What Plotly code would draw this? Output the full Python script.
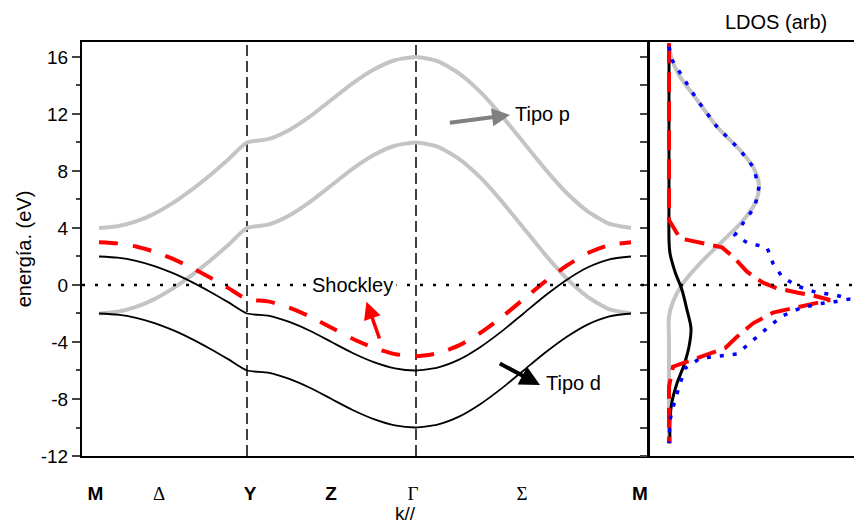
import plotly.graph_objects as go

# ---------------- band structure data (k path in arbitrary path units) ----------------
K_PATH = [0, 18.5, 37, 55.5, 74, 92.5, 111, 129.5, 148,
          169.1, 190.3, 211.4, 232.5, 253.6, 274.8, 295.9, 317,
          338.5, 360, 381.5, 403, 424.5, 446, 467.5, 489, 510.5, 532]

P_UPPER = [4, 4.12, 4.46, 5.01, 5.76, 6.67, 7.70, 8.83, 10,
           10.23, 10.88, 11.85, 13, 14.15, 15.12, 15.77, 16,
           15.71, 14.85, 13.53, 11.85, 10, 8.15, 6.47, 5.15, 4.29, 4]
P_LOWER = [-2, -1.88, -1.54, -0.99, -0.24, 0.67, 1.70, 2.83, 4,
           4.23, 4.88, 5.85, 7, 8.15, 9.12, 9.77, 10,
           9.71, 8.85, 7.53, 5.85, 4, 2.15, 0.47, -0.85, -1.71, -2]
D_UPPER = [2, 1.92, 1.70, 1.33, 0.83, 0.22, -0.47, -1.22, -2,
           -2.15, -2.59, -3.23, -4, -4.77, -5.41, -5.85, -6,
           -5.80, -5.24, -4.35, -3.24, -2, -0.76, 0.35, 1.24, 1.80, 2]
D_LOWER = [-2, -2.08, -2.30, -2.67, -3.17, -3.78, -4.47, -5.22, -6,
           -6.15, -6.59, -7.23, -8, -8.77, -9.41, -9.85, -10,
           -9.80, -9.24, -8.35, -7.24, -6, -4.76, -3.65, -2.76, -2.20, -2]
SHOCKLEY = [3, 2.92, 2.70, 2.33, 1.83, 1.22, 0.53, -0.22, -1,
            -1.15, -1.59, -2.23, -3, -3.77, -4.41, -4.85, -5,
            -4.80, -4.24, -3.35, -2.24, -1, 0.24, 1.35, 2.24, 2.80, 3]

# high-symmetry points with vertical guide lines
SYM_LINES = [148, 317]

# k-axis tick labels
TICK_POS = [-3.5, 60, 151, 232, 314, 423, 541]
TICK_LABELS = ["M", "Δ", "Y", "Z", "Γ", "Σ", "M"]
GREEK = {"Δ", "Γ", "Σ"}

# energy-axis ticks
E_TICKS = [-12, -8, -4, 0, 4, 8, 12, 16]
E_TICK_LABELS = ["-12", "-8", "-4", "0", "4", "8", "12", "16"]

# ---------------- LDOS data ----------------
LDOS_P_E = [16.96, 16.02, 14.62, 13.0, 11.1, 9.47, 8.3, 7.02, 5.73, 4.44, 3.04, 1.52, 0.12, -1.17, -2.22, -4.0, -11.1]
LDOS_P = [0, 0.02, 0.11, 0.28, 0.48, 0.71, 0.84, 0.90, 0.86, 0.73, 0.53, 0.31, 0.14, 0.04, 0, 0, 0]

LDOS_D_E = [16.96, 6.0, 3.16, 2.22, 0.93, -0.35, -1.75, -3.04, -4.33, -5.61, -6.9, -8.19, -9.47, -11.1]
LDOS_D = [0, 0, 0, 0.01, 0.06, 0.13, 0.18, 0.22, 0.20, 0.15, 0.08, 0.03, 0.01, 0.01]

LDOS_S_E = [16.96, 4.56, 3.27, 2.64, 1.99, 0.93, 0.16, -0.23, -0.54, -0.77, -1.05, -1.24,
            -1.94, -2.69, -3.63, -4.44, -5.08, -5.73, -7.14, -11.1]
LDOS_S = [0, 0, 0.11, 0.53, 0.64, 0.78, 0.94, 1.08, 1.29, 1.46, 1.61, 1.48,
          1.04, 0.84, 0.68, 0.56, 0.31, 0.04, 0, 0]

LDOS_T_E = [16.72, 15.79, 13.0, 11.1, 9.47, 8.3, 6.9, 5.5, 4.33, 3.51, 2.97, 2.64, 1.52, 0.58,
            -0.07, -0.54, -0.70, -0.98, -1.17, -1.33, -1.64, -2.18, -3.04, -3.98, -4.84,
            -4.98, -5.15, -5.85, -6.9, -8.07, -9.47, -11.1]
LDOS_T = [0, 0.03, 0.28, 0.48, 0.71, 0.84, 0.90, 0.86, 0.74, 0.66, 0.78, 0.98, 1.04, 1.13,
          1.28, 1.48, 1.66, 1.81, 1.66, 1.49, 1.31, 1.13, 0.98, 0.83, 0.68,
          0.51, 0.31, 0.16, 0.11, 0.06, 0.01, 0]

FONT = "Arial, Liberation Sans, sans-serif"
GRAY = "#c4c4c4"

fig = go.Figure()

# left panel bands
for vals in (P_UPPER, P_LOWER):
    fig.add_trace(go.Scatter(x=K_PATH, y=vals, mode="lines",
                             line=dict(color=GRAY, width=4, shape="spline", smoothing=0.6),
                             xaxis="x", yaxis="y"))
for vals in (D_UPPER, D_LOWER):
    fig.add_trace(go.Scatter(x=K_PATH, y=vals, mode="lines",
                             line=dict(color="black", width=1.8, shape="spline", smoothing=0.6),
                             xaxis="x", yaxis="y"))
fig.add_trace(go.Scatter(x=K_PATH, y=SHOCKLEY, mode="lines",
                         line=dict(color="red", width=4, dash="19px,15px", shape="spline", smoothing=0.6),
                         xaxis="x", yaxis="y"))

# right panel LDOS
fig.add_trace(go.Scatter(x=LDOS_P, y=LDOS_P_E, mode="lines",
                         line=dict(color=GRAY, width=4, shape="spline", smoothing=0.8),
                         xaxis="x2", yaxis="y2"))
fig.add_trace(go.Scatter(x=LDOS_D, y=LDOS_D_E, mode="lines",
                         line=dict(color="black", width=3, shape="spline", smoothing=0.8),
                         xaxis="x2", yaxis="y2"))
fig.add_trace(go.Scatter(x=LDOS_S, y=LDOS_S_E, mode="lines",
                         line=dict(color="red", width=4, dash="20px,9px"),
                         xaxis="x2", yaxis="y2"))
fig.add_trace(go.Scatter(x=LDOS_T, y=LDOS_T_E, mode="lines",
                         line=dict(color="blue", width=3.5, dash="4px,9px"),
                         xaxis="x2", yaxis="y2"))

ticktext = []
for t in TICK_LABELS:
    if t in GREEK:
        ticktext.append("<span style='font-family:Liberation Serif, serif; font-size:19px'>" + t + "</span>")
    else:
        ticktext.append("<b>" + t + "</b>")

split = 568 / 780

# the page body adds an 8px offset: figure is sized so the plot sits where the reference has it
fig.update_layout(
    width=854, height=517,
    margin=dict(l=74, r=0, t=34, b=69),
    paper_bgcolor="white", plot_bgcolor="white",
    showlegend=False,
    font=dict(family=FONT, color="black", size=20),
    xaxis=dict(domain=[0, split], range=[-17, 551], showline=True, linewidth=2,
               linecolor="black", mirror=True, ticks="", showgrid=False, zeroline=False,
               tickmode="array", tickvals=TICK_POS, ticktext=ticktext,
               tickfont=dict(size=19, family=FONT), ticklabelstandoff=19),
    yaxis=dict(domain=[0, 1], range=[-12, 17.05], showline=True, linewidth=2,
               linecolor="black", ticks="outside", ticklen=8, tickwidth=1.5,
               tickmode="array", tickvals=E_TICKS, ticktext=E_TICK_LABELS,
               showgrid=False, zeroline=False,
               tickfont=dict(size=19, family=FONT),
               minor=dict(ticks="outside", ticklen=4, tickwidth=1.5, tickmode="linear",
                          dtick=2, tick0=0, showgrid=False),
               title=dict(text="energía. (eV)", font=dict(size=20, family=FONT), standoff=4)),
    xaxis2=dict(domain=[split, 1], range=[-0.19, 1.93], anchor="y2", showline=True,
                linewidth=2, linecolor="black", mirror=True, ticks="",
                showticklabels=False, showgrid=False, zeroline=False),
    yaxis2=dict(domain=[0, 1], range=[-12, 17.05], anchor="x2", showline=True,
                linewidth=3, linecolor="black", ticks="outside", ticklen=7, tickwidth=2,
                tick0=0, dtick=2, showticklabels=False, showgrid=False, zeroline=False),
)

# zero-energy dotted line across both panels
fig.add_shape(type="line", xref="paper", yref="y", x0=0, x1=1, y0=0, y1=0,
              line=dict(color="black", width=2.5, dash="3px,10px"))
# vertical dashed lines at high-symmetry points
for kx in SYM_LINES:
    fig.add_shape(type="line", xref="x", yref="y domain", x0=kx, x1=kx, y0=0, y1=1,
                  line=dict(color="black", width=1.5, dash="11px,5px"), layer="below")

ann_font = dict(size=20, family=FONT)
# labels and arrows
fig.add_annotation(x=443.5, y=12.0, xref="x", yref="y", text="Tipo p", showarrow=False,
                   font=ann_font, xanchor="center", yanchor="middle")
fig.add_annotation(x=411, y=11.93, xref="x", yref="y", ax=349.3, ay=11.37, axref="x", ayref="y",
                   text="", showarrow=True, arrowhead=2, arrowsize=0.9, arrowwidth=4,
                   arrowcolor="#808080")
fig.add_annotation(x=474.5, y=-6.88, xref="x", yref="y", text="Tipo d", showarrow=False,
                   font=ann_font, xanchor="center", yanchor="middle")
fig.add_annotation(x=441, y=-7.02, xref="x", yref="y", ax=399.3, ay=-5.45, axref="x", ayref="y",
                   text="", showarrow=True, arrowhead=2, arrowsize=1, arrowwidth=4,
                   arrowcolor="black")
fig.add_annotation(x=253.5, y=0, xref="x", yref="y", text="Shockley", showarrow=False,
                   font=ann_font, bgcolor="white", borderpad=3, xanchor="center", yanchor="middle")
fig.add_annotation(x=267.5, y=-1.17, xref="x", yref="y", ax=281, ay=-3.86, axref="x", ayref="y",
                   text="", showarrow=True, arrowhead=2, arrowsize=1, arrowwidth=3.5,
                   arrowcolor="red")
fig.add_annotation(x=(776 - 82) / 780, y=(456 - 22) / 414, xref="paper", yref="paper",
                   text="LDOS (arb)", showarrow=False, font=ann_font,
                   xanchor="center", yanchor="middle")
fig.add_annotation(x=(405 - 82) / 780, y=(456 - 513) / 414, xref="paper", yref="paper",
                   text="k//", showarrow=False, font=dict(size=19, family=FONT),
                   xanchor="center", yanchor="middle")

fig.write_html("out.html")
